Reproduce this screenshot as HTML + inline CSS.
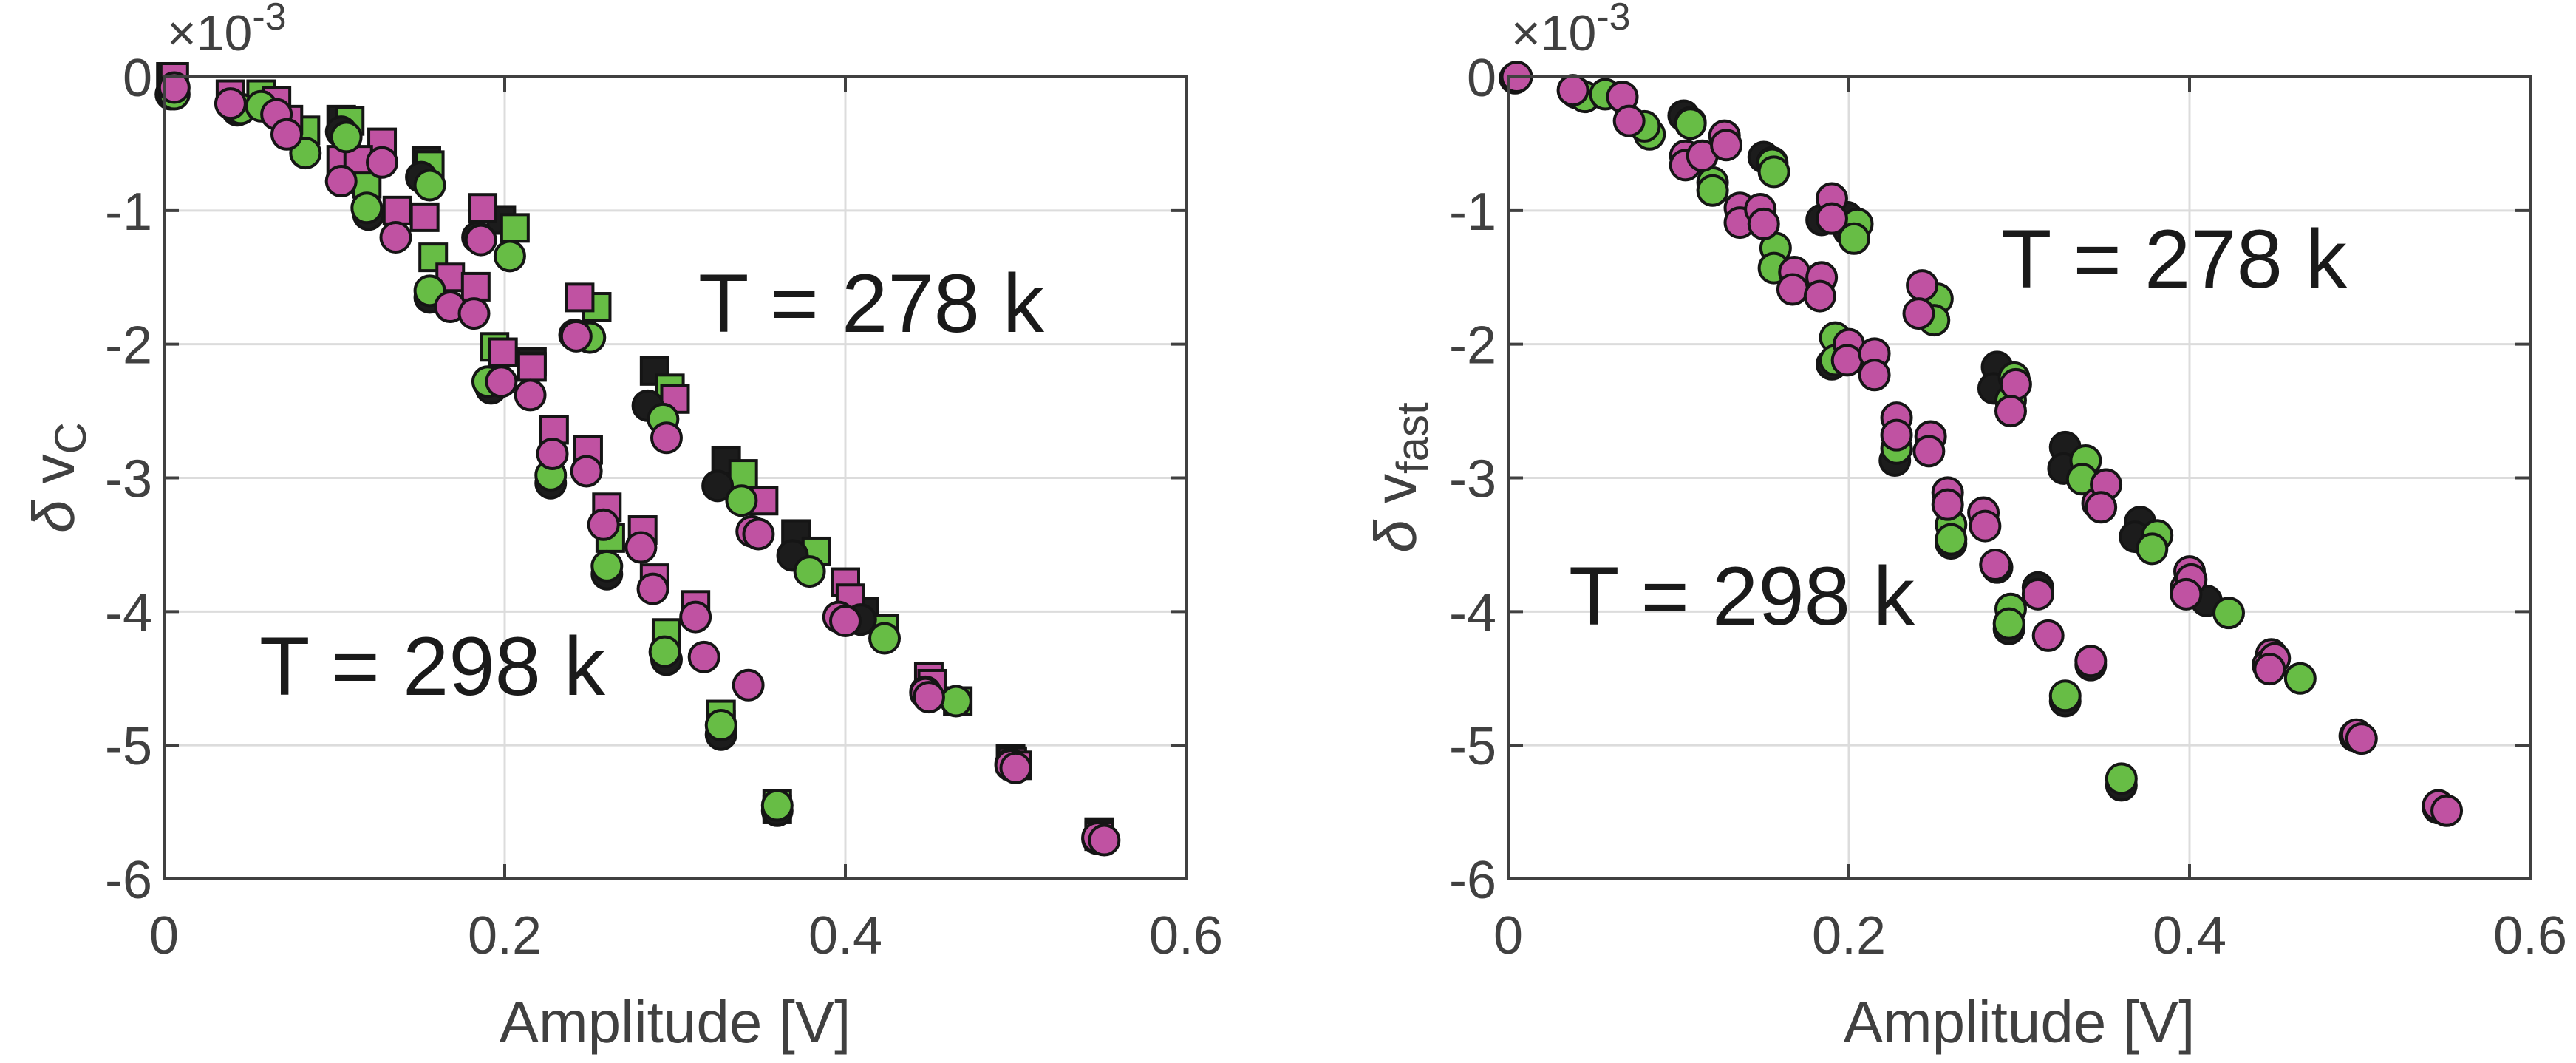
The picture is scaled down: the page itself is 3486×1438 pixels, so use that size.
<!DOCTYPE html>
<html><head><meta charset="utf-8"><style>
html,body{margin:0;padding:0;background:#fff}
svg{display:block}
text{font-family:"Liberation Sans",Arial,sans-serif}
</style></head><body>
<svg id="fig" width="3486" height="1438" viewBox="0 0 3486 1438" xmlns="http://www.w3.org/2000/svg"></svg>
<script>
const xTicks=[0,0.2,0.4,0.6];
const xTickLabels=["0","0.2","0.4","0.6"];
const yTicks=[0,-1,-2,-3,-4,-5,-6];
const yTickLabels=["0","-1","-2","-3","-4","-5","-6"];
// left panel data (x in V, y in 1e-3)
const leftSqBlack=[[0.004,0.0],[0.104,-0.32],[0.154,-0.63],[0.198,-1.07],[0.288,-2.2],[0.33,-2.87],[0.371,-3.42],[0.411,-4.0],[0.216,-2.13],[0.497,-5.1],[0.549,-5.65],[0.36,-5.48],[0.327,-4.85],[0.295,-4.25]];
const leftSqGreen=[[0.057,-0.13],[0.083,-0.4],[0.109,-0.33],[0.119,-0.8],[0.156,-0.66],[0.158,-1.35],[0.206,-1.13],[0.194,-2.02],[0.254,-1.72],[0.262,-3.45],[0.295,-4.16],[0.297,-2.33],[0.327,-4.77],[0.34,-2.97],[0.36,-5.44],[0.383,-3.55],[0.423,-4.13],[0.466,-4.67]];
const leftSqMag=[[0.006,0.0],[0.039,-0.13],[0.066,-0.18],[0.073,-0.32],[0.104,-0.62],[0.128,-0.49],[0.114,-0.62],[0.137,-1.0],[0.153,-1.05],[0.168,-1.5],[0.183,-1.57],[0.187,-0.98],[0.244,-1.65],[0.199,-2.06],[0.216,-2.17],[0.229,-2.64],[0.249,-2.79],[0.26,-3.22],[0.281,-3.39],[0.288,-3.75],[0.3,-2.41],[0.312,-3.95],[0.352,-3.17],[0.4,-3.78],[0.403,-3.9],[0.449,-4.49],[0.451,-4.54],[0.498,-5.12],[0.501,-5.15],[0.549,-5.68]];
const leftCircBlack=[[0.004,-0.13],[0.043,-0.25],[0.104,-0.41],[0.12,-1.03],[0.151,-0.75],[0.156,-1.65],[0.184,-1.2],[0.192,-2.33],[0.241,-1.93],[0.227,-3.04],[0.26,-3.72],[0.284,-2.46],[0.295,-4.36],[0.325,-3.06],[0.327,-4.92],[0.36,-5.49],[0.369,-3.58],[0.409,-4.06],[0.447,-4.6],[0.497,-5.14],[0.548,-5.7]];
const leftCircGreen=[[0.006,-0.13],[0.045,-0.24],[0.057,-0.22],[0.083,-0.57],[0.107,-0.45],[0.119,-0.98],[0.156,-0.81],[0.156,-1.6],[0.203,-1.34],[0.19,-2.28],[0.227,-2.98],[0.25,-1.95],[0.26,-3.66],[0.293,-2.56],[0.294,-4.3],[0.327,-4.85],[0.339,-3.17],[0.36,-5.45],[0.379,-3.7],[0.423,-4.2],[0.465,-4.67]];
const leftCircMag=[[0.006,-0.08],[0.039,-0.2],[0.066,-0.28],[0.072,-0.43],[0.104,-0.78],[0.128,-0.64],[0.136,-1.2],[0.168,-1.72],[0.182,-1.77],[0.186,-1.22],[0.242,-1.94],[0.198,-2.28],[0.215,-2.38],[0.228,-2.82],[0.248,-2.95],[0.258,-3.35],[0.28,-3.52],[0.287,-3.83],[0.295,-2.7],[0.312,-4.04],[0.317,-4.34],[0.343,-4.55],[0.345,-3.4],[0.349,-3.42],[0.396,-4.04],[0.4,-4.07],[0.447,-4.61],[0.449,-4.64],[0.497,-5.15],[0.5,-5.17],[0.548,-5.69],[0.552,-5.71]];
// right panel data
const rightBlack=[[0.004,-0.01],[0.04,-0.12],[0.067,-0.15],[0.103,-0.29],[0.107,-0.34],[0.15,-0.6],[0.155,-0.64],[0.184,-1.07],[0.199,-1.05],[0.2,-1.15],[0.19,-2.15],[0.227,-2.87],[0.243,-1.76],[0.26,-3.49],[0.287,-2.17],[0.285,-2.33],[0.294,-4.13],[0.287,-3.67],[0.327,-2.77],[0.326,-2.93],[0.327,-4.67],[0.36,-5.3],[0.371,-3.33],[0.368,-3.44],[0.41,-3.92],[0.342,-4.4],[0.311,-3.82],[0.497,-4.93],[0.546,-5.47]];
const rightGreen=[[0.045,-0.15],[0.057,-0.13],[0.083,-0.43],[0.08,-0.37],[0.107,-0.35],[0.12,-0.79],[0.12,-0.85],[0.155,-0.65],[0.156,-0.71],[0.157,-1.28],[0.156,-1.43],[0.205,-1.1],[0.203,-1.21],[0.192,-1.95],[0.192,-2.12],[0.252,-1.66],[0.25,-1.82],[0.228,-2.78],[0.26,-3.35],[0.26,-3.46],[0.297,-2.25],[0.295,-2.42],[0.295,-3.98],[0.294,-4.09],[0.339,-2.87],[0.337,-3.01],[0.327,-4.63],[0.36,-5.25],[0.381,-3.43],[0.378,-3.53],[0.423,-4.01],[0.465,-4.5]];
const rightMag=[[0.005,0],[0.038,-0.1],[0.067,-0.15],[0.071,-0.33],[0.104,-0.59],[0.104,-0.66],[0.114,-0.59],[0.127,-0.44],[0.128,-0.51],[0.136,-0.98],[0.136,-1.09],[0.148,-0.99],[0.15,-1.1],[0.168,-1.46],[0.167,-1.59],[0.184,-1.5],[0.183,-1.64],[0.19,-0.91],[0.19,-1.06],[0.2,-2.0],[0.199,-2.12],[0.215,-2.07],[0.215,-2.23],[0.228,-2.55],[0.228,-2.68],[0.243,-1.56],[0.241,-1.77],[0.248,-2.69],[0.247,-2.8],[0.258,-3.11],[0.258,-3.2],[0.279,-3.26],[0.28,-3.36],[0.286,-3.65],[0.298,-2.3],[0.295,-2.5],[0.311,-3.87],[0.317,-4.18],[0.342,-4.37],[0.346,-3.19],[0.351,-3.05],[0.348,-3.22],[0.4,-3.7],[0.398,-3.82],[0.401,-3.76],[0.398,-3.87],[0.448,-4.32],[0.446,-4.4],[0.45,-4.35],[0.447,-4.43],[0.498,-4.92],[0.501,-4.95],[0.546,-5.45],[0.551,-5.49]];

const NS="http://www.w3.org/2000/svg";
const svg=document.getElementById('fig');
const BLACK="#1c1c1c",GREEN="#67bd45",MAG="#c052a2";
function mk(tag,attrs,parent){const e=document.createElementNS(NS,tag);for(const k in attrs)e.setAttribute(k,attrs[k]);(parent||svg).appendChild(e);return e;}

function panel(cfg){
  const g=mk('g',{});
  
  
  const L=cfg.left,R=cfg.right,T=104,B=1189;
  const sx=v=>L+(v-0)/0.6*(R-L);
  const sy=v=>T+(0-v)/6*(B-T);
  xTicks.forEach((t,i)=>{if(i>0&&i<xTicks.length-1){const l=mk('line',{x1:sx(t),x2:sx(t),y1:T,y2:B,stroke:'#dcdcdc','stroke-width':3},g);}});
  yTicks.forEach((t,i)=>{if(i>0&&i<yTicks.length-1){const l=mk('line',{x1:L,x2:R,y1:sy(t),y2:sy(t),stroke:'#dcdcdc','stroke-width':3},g);}});
  const pg=mk('g',{},g);
  
  
  cfg.series.forEach(s=>{
    s.data.forEach(p=>{
      let e;
      if(s.shape==='sq'){e=mk('rect',{x:sx(p[0])-18,y:sy(p[1])-18,width:36,height:36,fill:s.color,stroke:'#151515','stroke-width':4},pg);}
      else{e=mk('circle',{cx:sx(p[0]),cy:sy(p[1]),r:20,fill:s.color,stroke:'#151515','stroke-width':4},pg);}
      
      
    });
  });
  const box=mk('rect',{x:L,y:T,width:R-L,height:B-T,fill:'none',stroke:'#404040','stroke-width':4},g);
  
  
  xTicks.forEach((t,i)=>{
    mk('line',{x1:sx(t),x2:sx(t),y1:B,y2:B-20,stroke:'#404040','stroke-width':4},g);
    mk('line',{x1:sx(t),x2:sx(t),y1:T,y2:T+20,stroke:'#404040','stroke-width':4},g);
    const tx=mk('text',{x:sx(t),y:1290,'font-size':72,fill:'#404040','text-anchor':'middle'},g);
    tx.textContent=xTickLabels[i];
    
    
  });
  yTicks.forEach((t,i)=>{
    mk('line',{x1:L,x2:L+20,y1:sy(t),y2:sy(t),stroke:'#404040','stroke-width':4},g);
    mk('line',{x1:R,x2:R-20,y1:sy(t),y2:sy(t),stroke:'#404040','stroke-width':4},g);
    const tx=mk('text',{x:L-16,y:sy(t)+26,'font-size':72,fill:'#404040','text-anchor':'end'},g);
    tx.textContent=yTickLabels[i];
    
    
  });
  const ex=mk('text',{x:L+4,y:68,'font-size':68,fill:'#404040'},g);
  ex.innerHTML='×10<tspan dy="-28" font-size="52">-3</tspan>';
  
  
  const xl=mk('text',{x:(L+R)/2,y:1410,'font-size':80,fill:'#404040','text-anchor':'middle'},g);
  xl.textContent='Amplitude [V]';
  
  
  const yl=mk('text',{x:0,y:0,'font-size':80,fill:'#404040','text-anchor':'middle',transform:`translate(${cfg.ylx},646) rotate(-90)`},g);
  yl.innerHTML=cfg.ylab;
  
  
  cfg.ann.forEach(a=>{
    const t=mk('text',{x:a[0],y:a[1],'font-size':112,fill:'#1a1a1a'},g);
    t.textContent=a[2];
    
    
  });
}
panel({name:'left-panel',left:222,right:1605,ylx:100,
  ylab:'<tspan font-style="italic">δ</tspan> v<tspan dy="16" font-size="60">C</tspan>',
  series:[{data:leftSqBlack,color:BLACK,shape:'sq',name:'square-black'},{data:leftSqGreen,color:GREEN,shape:'sq',name:'square-green'},{data:leftSqMag,color:MAG,shape:'sq',name:'square-magenta'},
  {data:leftCircBlack,color:BLACK,shape:'c',name:'circle-black'},{data:leftCircGreen,color:GREEN,shape:'c',name:'circle-green'},{data:leftCircMag,color:MAG,shape:'c',name:'circle-magenta'}],
  ann:[[945,449,'T = 278 k'],[351,940,'T = 298 k']]});
panel({name:'right-panel',left:2041,right:3424,ylx:1916,
  ylab:'<tspan font-style="italic">δ</tspan> v<tspan dy="16" font-size="60">fast</tspan>',
  series:[{data:rightBlack,color:BLACK,shape:'c',name:'circle-black'},{data:rightGreen,color:GREEN,shape:'c',name:'circle-green'},{data:rightMag,color:MAG,shape:'c',name:'circle-magenta'}],
  ann:[[2708,389,'T = 278 k'],[2123,845,'T = 298 k']]});
</script>
</body></html>
